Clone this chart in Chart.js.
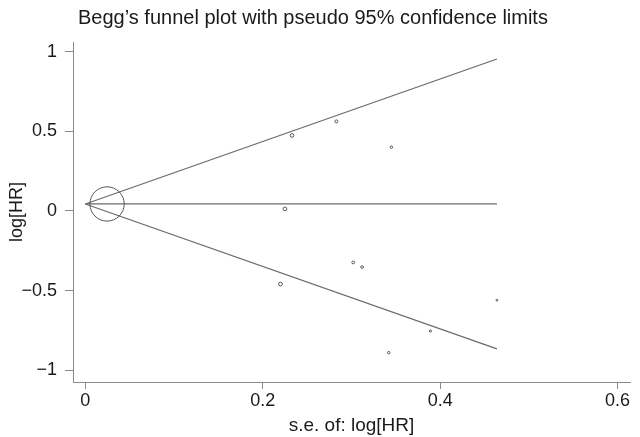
<!DOCTYPE html>
<html>
<head>
<meta charset="utf-8">
<script src="https://cdn.jsdelivr.net/npm/chart.js@4.4.1/dist/chart.umd.min.js"></script>
<style>
  html, body { margin: 0; padding: 0; background: #fff; }
  #wrap { width: 640px; height: 437px; }
</style>
</head>
<body>
<div id="wrap"><canvas id="funnel"></canvas></div>
<script>
// study estimates
const studySe    = [0.0245, 0.233, 0.283, 0.345, 0.225, 0.302, 0.312, 0.220, 0.464, 0.389, 0.342];
const studyLogHr = [0.044, 0.474, 0.562, 0.400, 0.013, -0.323, -0.352, -0.459, -0.560, -0.753, -0.889];

// pooled estimate and the se where the limit lines stop
const pooledLogHr = 0.044;
const maxSe = 0.464;

const xTicks = [0, 0.2, 0.4, 0.6];
const yTicks = [-1, -0.5, 0, 0.5, 1];

const titleText = 'Begg\u2019s funnel plot with pseudo 95% confidence limits';
const font = 'Liberation Sans, Arial, Helvetica, sans-serif';
const axisGrey = '#8a8a8a';
const lineGrey = '#6a6a6a';

const studyPts = studySe.map((s, i) => ({ x: s, y: studyLogHr[i] }));
const centre = [{ x: 0, y: pooledLogHr }, { x: maxSe, y: pooledLogHr }];
const upper = [{ x: 0, y: pooledLogHr }, { x: maxSe, y: pooledLogHr + 1.96 * maxSe }];
const lower = [{ x: 0, y: pooledLogHr }, { x: maxSe, y: pooledLogHr - 1.96 * maxSe }];

function limitLine(data) {
    return {
        type: 'line', data: data, borderColor: lineGrey, borderWidth: 1.2,
        pointRadius: 0, fill: false, tension: 0, order: 2
    };
}

// draws the plot title up top
const titlePlugin = {
    id: 'plotTitle',
    afterDraw(chart) {
        const ctx = chart.ctx;
        ctx.save();
        ctx.font = '20px ' + font;
        ctx.fillStyle = '#1a1a1a';
        ctx.textBaseline = 'middle';
        ctx.fillText(titleText, 78, 18);
        ctx.restore();
    }
};

new Chart(document.getElementById('funnel'), {
    type: 'scatter',
    data: {
        datasets: [
            {
                data: studyPts,
                // marker size follows weight, like stata does
                pointRadius: studySe.map(s => 0.42 / s),
                pointBorderColor: '#555',
                pointBackgroundColor: 'rgba(0,0,0,0)',
                pointBorderWidth: 1,
                order: 1
            },
            limitLine(upper),
            limitLine(centre),
            limitLine(lower)
        ]
    },
    options: {
        responsive: true,
        maintainAspectRatio: false,
        animation: false,
        // big marker would otherwise push the plot area in
        layout: { autoPadding: false, padding: { top: 42, right: 10, left: 0, bottom: 0 } },
        plugins: { legend: { display: false }, tooltip: { enabled: false } },
        scales: {
            x: {
                type: 'linear',
                min: -0.0139,
                max: 0.614,
                afterBuildTicks: s => { s.ticks = xTicks.map(v => ({ value: v })); },
                afterFit: s => { s.height = 55; s.paddingLeft = 0; s.paddingRight = 0; },
                grid: { drawOnChartArea: false, color: axisGrey, tickLength: 7 },
                border: { color: axisGrey, width: 1 },
                ticks: { color: '#1a1a1a', font: { family: font, size: 18 }, padding: 1, maxRotation: 0 },
                title: { display: true, text: 's.e. of: log[HR]', color: '#1a1a1a', font: { family: font, size: 19 }, padding: { top: 0, bottom: 0 } }
            },
            y: {
                type: 'linear',
                min: -1.073,
                max: 1.06,
                afterBuildTicks: s => { s.ticks = yTicks.map(v => ({ value: v })); },
                afterFit: s => { s.width = 73; },
                grid: { drawOnChartArea: false, color: axisGrey, tickLength: 8 },
                border: { color: axisGrey, width: 1 },
                ticks: {
                    color: '#1a1a1a', font: { family: font, size: 18 }, padding: 8,
                    callback: v => String(v).replace('-', '\u2212')
                },
                title: { display: true, text: 'log[HR]', color: '#1a1a1a', font: { family: font, size: 18 }, padding: { top: 6, bottom: 0 } }
            }
        }
    },
    plugins: [titlePlugin]
});
</script>
</body>
</html>
